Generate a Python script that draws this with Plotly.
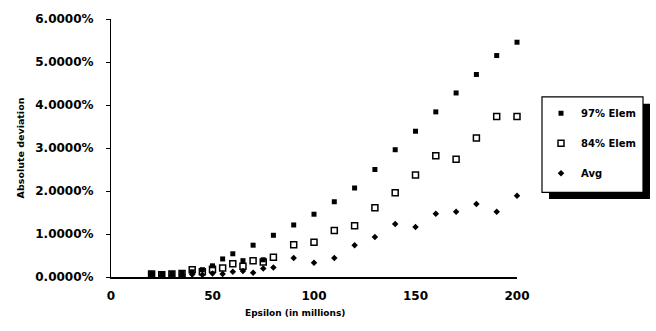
import plotly.graph_objects as go

# ---- data ----
epsilon = [20, 25, 30, 35, 40, 45, 50, 55, 60, 65, 70, 75, 80,
           90, 100, 110, 120, 130, 140, 150, 160, 170, 180, 190, 200]
elem97 = [0.08, 0.06, 0.08, 0.09, 0.12, 0.17, 0.26, 0.42, 0.54, 0.38, 0.74, 0.40, 0.97,
          1.21, 1.46, 1.75, 2.07, 2.50, 2.96, 3.39, 3.84, 4.28, 4.71, 5.15, 5.46]
elem84 = [0.07, 0.05, 0.07, 0.08, 0.17, 0.12, 0.18, 0.21, 0.31, 0.25, 0.38, 0.35, 0.46,
          0.75, 0.81, 1.08, 1.19, 1.61, 1.96, 2.37, 2.82, 2.74, 3.23, 3.73, 3.73]
avg = [0.04, 0.03, 0.04, 0.05, 0.06, 0.05, 0.08, 0.07, 0.12, 0.14, 0.10, 0.20, 0.22,
       0.44, 0.33, 0.44, 0.74, 0.93, 1.23, 1.16, 1.47, 1.52, 1.70, 1.52, 1.89]
series_names = ["97% Elem", "84% Elem", "Avg"]
x_ticks = [0, 50, 100, 150, 200]
y_ticks = [0, 1, 2, 3, 4, 5, 6]
y_tick_labels = [f"{v:.4f}%" for v in y_ticks]

# ---- layout geometry ----
W, H = 656, 331
L, R, T, B = 111, 517, 12, 277  # plot area in pixels


def px(X):
    return (X - L) / (R - L)


def py(Y):
    return (B - Y) / (B - T)


FONT = "DejaVu Sans"

fig = go.Figure()
fig.add_trace(go.Scatter(x=epsilon, y=elem97, mode="markers", name=series_names[0],
                         legendgroup="a", cliponaxis=False,
                         marker=dict(symbol="square", size=5, color="black")))
fig.add_trace(go.Scatter(x=epsilon, y=elem84, mode="markers", name=series_names[1],
                         legendgroup="b", cliponaxis=False,
                         marker=dict(symbol="square-open", size=6, color="black",
                                     line=dict(width=1.5, color="black"))))
fig.add_trace(go.Scatter(x=epsilon, y=avg, mode="markers", name=series_names[2],
                         legendgroup="c", cliponaxis=False,
                         marker=dict(symbol="diamond", size=5, color="black")))

# legend box with drop shadow
lx0, lx1, ly0, ly1 = 542, 643, 92, 190
fig.add_shape(type="rect", xref="paper", yref="paper",
              x0=px(lx0 + 7), x1=px(lx1 + 7), y0=py(ly1 + 7), y1=py(ly0 + 7),
              fillcolor="black", line=dict(width=0))
fig.add_shape(type="rect", xref="paper", yref="paper",
              x0=px(lx0), x1=px(lx1), y0=py(ly1), y1=py(ly0),
              fillcolor="white", line=dict(width=1.2, color="black"))

fig.add_annotation(text="Epsilon (in millions)", xref="paper", yref="paper",
                   x=px(295), y=py(314), xanchor="center", yanchor="middle",
                   showarrow=False,
                   font=dict(family=FONT, size=9, color="black", weight="bold"))

fig.update_layout(
    width=W, height=H,
    margin=dict(l=L, r=W - R, t=T, b=H - B, pad=0),
    paper_bgcolor="white", plot_bgcolor="white",
    font=dict(family=FONT, color="black"),
    showlegend=True,
    legend=dict(x=px(541), y=py(94), xanchor="left", yanchor="top",
                bgcolor="rgba(0,0,0,0)", borderwidth=0, tracegroupgap=11,
                font=dict(family=FONT, size=10, color="black", weight="bold"),
                itemwidth=30),
    xaxis=dict(range=[0, 200], tickvals=x_ticks, ticks="", showgrid=False,
               zeroline=False, showline=True, linecolor="black", linewidth=2,
               ticklabelstandoff=7,
               tickfont=dict(family=FONT, size=12, color="black", weight="bold")),
    yaxis=dict(range=[0, 6], tickvals=y_ticks, ticktext=y_tick_labels,
               ticks="outside", ticklen=4, tickcolor="black", showgrid=False,
               zeroline=False, showline=True, linecolor="black", linewidth=1,
               ticklabelstandoff=10,
               tickfont=dict(family=FONT, size=12, color="black", weight="bold"),
               title=dict(text="Absolute deviation", standoff=8,
                          font=dict(family=FONT, size=9.5, color="black", weight="bold"))),
)

fig.write_html("out.html")
